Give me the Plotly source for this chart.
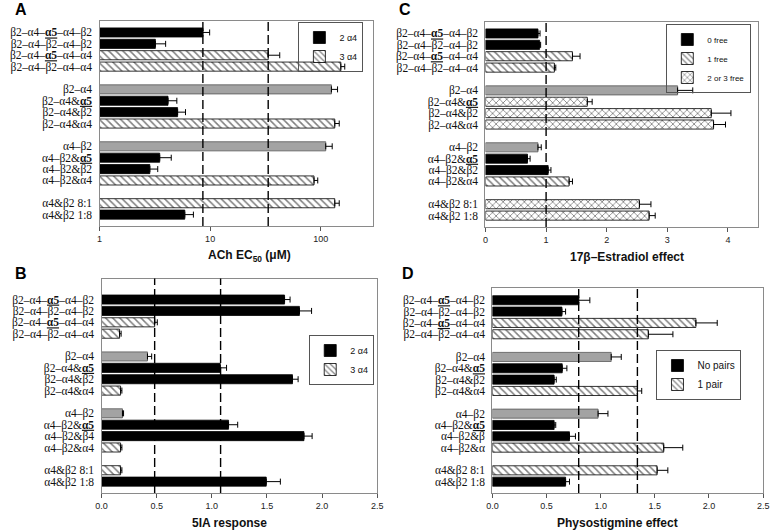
import plotly.graph_objects as go
from plotly.subplots import make_subplots

# Etiquetas de las filas (de arriba hacia abajo)
A5 = "<b><u>α5</u></b>"
labels_abc = ["β2–α4–" + A5 + "–α4–β2", "β2–α4–β2–α4–β2", "β2–α4–" + A5 + "–α4–α4", "β2–α4–β2–α4–α4",
              "β2–α4", "β2–α4&" + A5, "β2–α4&β2", "β2–α4&α4",
              "α4–β2", "α4–β2&" + A5, "α4–β2&β2", "α4–β2&α4",
              "α4&β2 8:1", "α4&β2 1:8"]
labels_b = labels_abc[:10] + ["α4–β2&β4"] + labels_abc[11:]
labels_d = labels_abc[:10] + ["α4–β2&β", "α4–β2&α"] + labels_abc[12:]
group_sizes = [4, 4, 4, 2]

# Panel A: ACh EC50 (uM)
a_types = ["k", "k", "h", "h", "g", "k", "k", "h", "g", "k", "k", "h", "h", "k"]
a_vals = [8.6, 3.2, 33.5, 152, 125, 4.16, 5.08, 134, 111, 3.5, 2.85, 87, 134, 5.9]
a_err = [1.3, 0.76, 9.1, 13, 17, 0.84, 0.91, 13, 16, 0.95, 0.51, 7, 13, 1.16]
a_lines = [8.6, 33.5]

# Panel B: 5IA response
b_types = ["k", "k", "h", "h", "g", "k", "k", "h", "g", "k", "k", "h", "h", "k"]
b_vals = [1.66, 1.795, 0.482, 0.164, 0.417, 1.077, 1.732, 0.173, 0.19, 1.152, 1.836, 0.173, 0.173, 1.494]
b_err = [0.05, 0.11, 0.024, 0.014, 0.038, 0.057, 0.051, 0.012, 0.01, 0.083, 0.074, 0.012, 0.012, 0.128]
b_lines = [0.482, 1.08]

# Panel C: 17b-Estradiol effect
c_types = ["k", "k", "h", "h", "g", "x", "x", "x", "g", "k", "k", "h", "x", "x"]
c_vals = [0.866, 0.893, 1.435, 1.137, 3.17, 1.68, 3.725, 3.763, 0.866, 0.693, 1.034, 1.38, 2.54, 2.70]
c_err = [0.034, 0.017, 0.125, 0.023, 0.25, 0.08, 0.325, 0.197, 0.054, 0.043, 0.046, 0.055, 0.19, 0.10]
c_lines = [1.0]

# Panel D: Physostigmine effect
d_types = ["k", "k", "h", "h", "g", "k", "k", "h", "g", "k", "k", "h", "h", "k"]
d_vals = [0.797, 0.642, 1.879, 1.44, 1.097, 0.645, 0.57, 1.339, 0.976, 0.57, 0.712, 1.582, 1.521, 0.676]
d_err = [0.103, 0.034, 0.197, 0.227, 0.093, 0.043, 0.02, 0.04, 0.091, 0.015, 0.055, 0.176, 0.099, 0.036]
d_lines = [0.797, 1.339]

a_names = {"k": "2 α4", "h": "3 α4"}
b_names = {"k": "2 α4", "h": "3 α4"}
c_names = {"k": "0 free", "h": "1 free", "x": "2 or 3 free"}
d_names = {"k": "No pairs", "h": "1 pair"}

# posiciones de filas con un hueco entre grupos
pos = []
p = 0
for g in group_sizes:
    pos += list(range(p, p + g))
    p += g + 1

SERIF = "Liberation Serif, Times New Roman, serif"
SANS = "Liberation Sans, Arial, sans-serif"


def estilo(t):
    if t == "k":
        return dict(color="black", line=dict(color="black", width=0.8))
    if t == "g":
        return dict(color="#a3a3a3", line=dict(color="#555555", width=0.8))
    shape = "\\" if t == "h" else "x"
    return dict(color="white", line=dict(color="black", width=0.8),
                pattern=dict(shape=shape, fgcolor="black", bgcolor="white", size=5, solidity=0.3))


fig = make_subplots(rows=2, cols=2)

paneles = [
    (1, 1, a_types, a_vals, a_err, a_names, "legend", labels_abc, a_lines),
    (1, 2, c_types, c_vals, c_err, c_names, "legend3", labels_abc, c_lines),
    (2, 1, b_types, b_vals, b_err, b_names, "legend2", labels_b, b_lines),
    (2, 2, d_types, d_vals, d_err, d_names, "legend4", labels_d, d_lines),
]

for row, col, tipos, vals, errs, nombres, leg, labs, lineas in paneles:
    for t in ["k", "h", "x", "g"]:
        idx = [i for i, tt in enumerate(tipos) if tt == t]
        if not idx:
            continue
        fig.add_trace(go.Bar(
            x=[vals[i] for i in idx], y=[pos[i] for i in idx], orientation="h",
            width=0.8, marker=estilo(t),
            name=nombres.get(t, "otros"), showlegend=t in nombres, legend=leg,
            error_x=dict(type="data", symmetric=False, array=[errs[i] for i in idx],
                         arrayminus=[0] * len(idx), color="black", thickness=1, width=3),
        ), row=row, col=col)
    fig.update_yaxes(tickvals=pos, ticktext=labs, row=row, col=col)
    for v in lineas:
        fig.add_vline(x=v, line=dict(color="black", width=1.4, dash="9px,4px"), row=row, col=col)

W, H = 778, 531
# dominios (pixeles -> papel)
dominios = {
    (1, 1): ((95, 373), (20.5, 226), [17.0, -1.05]),
    (1, 2): ((487, 764), (21.5, 227), [17.0, -1.05]),
    (2, 1): ((97, 377), (278.5, 493), [17.0, -1.85]),
    (2, 2): ((494, 769), (288, 493), [17.0, -1.08]),
}
for (r, c), ((x0, x1), (y0, y1), yr) in dominios.items():
    fig.update_xaxes(domain=[x0 / W, x1 / W], row=r, col=c)
    fig.update_yaxes(domain=[1 - y1 / H, 1 - y0 / H], range=yr, row=r, col=c)

fig.update_xaxes(showline=True, mirror=True, linecolor="#8a8a8a", linewidth=1.2,
                 ticks="outside", ticklen=4, tickcolor="#555", showgrid=False, zeroline=False,
                 tickfont=dict(family=SANS, size=9, color="#222"))
fig.update_yaxes(showline=True, mirror=True, linecolor="#8a8a8a", linewidth=1.2,
                 ticks="", showgrid=False, zeroline=False, ticklabelstandoff=4,
                 tickfont=dict(family=SERIF, size=11.5, color="#111"))

fig.update_xaxes(type="log", range=[0, 2.475], tickvals=[1, 10, 100], ticktext=["1", "10", "100"],
                 row=1, col=1)
fig.update_xaxes(range=[0, 4.5], dtick=1, row=1, col=2)
fig.update_xaxes(range=[0, 2.5], dtick=0.5, tickformat=".1f", row=2, col=1)
fig.update_xaxes(range=[0, 2.5], dtick=0.5, tickformat=".1f", row=2, col=2)

anots = [
    ("ACh EC<sub>50</sub> (μM)", 247, 256),
    ("17β–Estradiol effect", 631, 257),
    ("5IA response", 227, 523),
    ("Physostigmine effect", 621, 523),
]
for texto, x, y in anots:
    fig.add_annotation(xref="paper", yref="paper", xanchor="center", yanchor="middle",
                       showarrow=False, font=dict(family=SANS, size=12, color="#111"),
                       text="<b>" + texto + "</b>", x=x / W, y=1 - y / H)

for letra, x, y in [("A", 15, 10), ("C", 405, 10), ("B", 15, 273), ("D", 408, 273)]:
    fig.add_annotation(xref="paper", yref="paper", xanchor="center", yanchor="middle",
                       showarrow=False, font=dict(family=SANS, size=16, color="black"),
                       text="<b>" + letra + "</b>", x=x / W, y=1 - y / H)

leg_base = dict(bordercolor="#555", borderwidth=1, bgcolor="rgba(255,255,255,0)", xanchor="right",
                yanchor="top", tracegroupgap=0, traceorder="normal")
fig.update_layout(
    width=W, height=H, barmode="overlay", plot_bgcolor="white", paper_bgcolor="white",
    margin=dict(l=0, r=0, t=0, b=0),
    legend=dict(leg_base, x=363 / W, y=1 - 22 / H, font=dict(family=SANS, size=9, color="#111")),
    legend2=dict(leg_base, x=374 / W, y=1 - 335 / H, font=dict(family=SANS, size=9, color="#111")),
    legend3=dict(leg_base, x=757 / W, y=1 - 24 / H, font=dict(family=SANS, size=8, color="#111")),
    legend4=dict(leg_base, x=747 / W, y=1 - 350 / H, font=dict(family=SANS, size=10, color="#111")),
)

# quitar el margen del body para que la figura empiece en (0, 0)
fig.write_html("out.html", config={"displayModeBar": False},
               post_script="document.body.style.margin='0';")
